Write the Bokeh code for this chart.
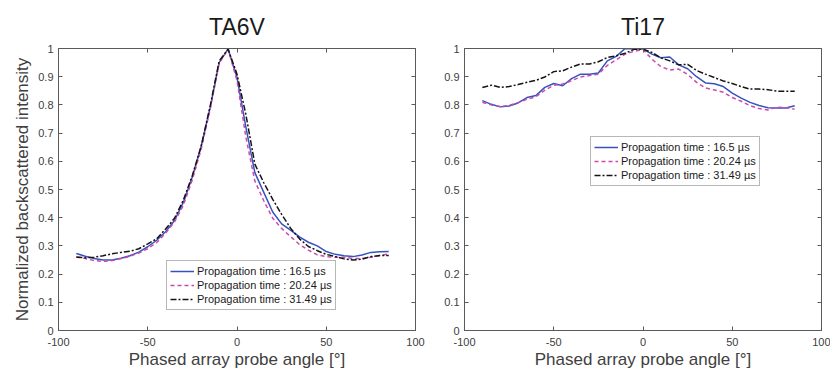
from bokeh.plotting import figure
from bokeh.layouts import row
from bokeh.models import Range1d, LinearAxis, FixedTicker, Legend
from bokeh.embed import file_html
from bokeh.resources import INLINE

# ---------------- data ----------------
angles = [-90, -85, -80, -75, -70, -65, -60, -55, -50, -45, -40, -35, -30, -25, -20, -15, -10, -5,
          0, 5, 10, 15, 20, 25, 30, 35, 40, 45, 50, 55, 60, 65, 70, 75, 80, 85]

ta6v_16_5 = [0.273, 0.263, 0.255, 0.250, 0.250, 0.256, 0.265, 0.278, 0.297, 0.320, 0.350, 0.390,
             0.455, 0.545, 0.655, 0.791, 0.950, 0.998, 0.897, 0.720, 0.560, 0.490, 0.420, 0.378,
             0.356, 0.332, 0.313, 0.300, 0.280, 0.270, 0.265, 0.262, 0.268, 0.277, 0.279, 0.280]
ta6v_20_24 = [0.262, 0.255, 0.248, 0.245, 0.248, 0.255, 0.263, 0.275, 0.290, 0.312, 0.345, 0.385,
              0.445, 0.535, 0.645, 0.785, 0.948, 0.998, 0.886, 0.685, 0.530, 0.460, 0.398, 0.362,
              0.333, 0.305, 0.285, 0.268, 0.262, 0.260, 0.260, 0.255, 0.255, 0.260, 0.266, 0.272]
ta6v_31_49 = [0.260, 0.258, 0.260, 0.265, 0.272, 0.277, 0.281, 0.290, 0.307, 0.325, 0.360, 0.398,
              0.463, 0.550, 0.655, 0.797, 0.955, 0.998, 0.909, 0.765, 0.590, 0.524, 0.465, 0.412,
              0.363, 0.325, 0.298, 0.283, 0.270, 0.262, 0.254, 0.250, 0.253, 0.262, 0.266, 0.266]

ti17_16_5 = [0.815, 0.802, 0.793, 0.796, 0.807, 0.826, 0.833, 0.862, 0.876, 0.868, 0.893, 0.909,
             0.909, 0.913, 0.956, 0.972, 1.000, 0.998, 0.998, 0.980, 0.967, 0.970, 0.942, 0.928,
             0.900, 0.878, 0.875, 0.865, 0.842, 0.824, 0.809, 0.798, 0.790, 0.789, 0.789, 0.797]
ti17_20_24 = [0.809, 0.800, 0.794, 0.798, 0.808, 0.820, 0.829, 0.852, 0.870, 0.874, 0.886, 0.899,
              0.904, 0.909, 0.940, 0.960, 0.980, 0.990, 0.997, 0.962, 0.936, 0.924, 0.927, 0.908,
              0.880, 0.860, 0.853, 0.845, 0.826, 0.813, 0.797, 0.787, 0.782, 0.792, 0.790, 0.785]
ti17_31_49 = [0.862, 0.870, 0.862, 0.865, 0.872, 0.880, 0.887, 0.899, 0.918, 0.921, 0.934, 0.945,
              0.945, 0.953, 0.968, 0.974, 0.983, 0.997, 0.998, 0.986, 0.967, 0.956, 0.942, 0.944,
              0.922, 0.909, 0.897, 0.885, 0.876, 0.865, 0.856, 0.856, 0.854, 0.849, 0.848, 0.848]

series_labels = ["Propagation time : 16.5 µs", "Propagation time : 20.24 µs", "Propagation time : 31.49 µs"]
x_ticks = [-100, -50, 0, 50, 100]
y_ticks = [0, 0.1, 0.2, 0.3, 0.4, 0.5, 0.6, 0.7, 0.8, 0.9, 1]
y_tick_labels = ["0", "0.1", "0.2", "0.3", "0.4", "0.5", "0.6", "0.7", "0.8", "0.9", "1"]
x_tick_labels = ["-100", "-50", "0", "50", "100"]

# ---------------- styles ----------------
FONT = "Liberation Sans"
TXT = "#404040"
AX = "#5a5a5a"
styles = [
    dict(color="#3653bd", line_dash="solid", line_width=1.5),
    dict(color="#cc49ac", line_dash="4 3", line_width=1.5),
    dict(color="#141414", line_dash="6 2 2 2", line_width=1.5),
]


def style_axis(ax, ticks, labels, show_labels=True, standoff=5):
    ax.ticker = FixedTicker(ticks=ticks)
    ax.minor_tick_line_color = None
    ax.major_tick_in = 4
    ax.major_tick_out = 0
    ax.axis_line_color = AX
    ax.major_tick_line_color = AX
    ax.major_label_text_font = FONT
    if show_labels:
        ax.major_label_overrides = {t: l for t, l in zip(ticks, labels)}
        ax.major_label_text_color = TXT
        ax.major_label_text_font_size = "11px"
        ax.major_label_standoff = standoff
    else:
        ax.major_label_text_color = None
        ax.major_label_text_font_size = "0px"
        ax.major_label_standoff = 0


def make_fig(title, ys, border_left, border_right, ylabel, legend_loc):
    p = figure(frame_width=357, frame_height=282, output_backend="svg", toolbar_location=None,
               x_range=Range1d(-100, 100), y_range=Range1d(0, 1),
               min_border_left=border_left, min_border_right=border_right,
               min_border_top=48, min_border_bottom=40)
    p.title.text = title
    p.title.text_font = FONT
    p.title.text_font_size = "23px"
    p.title.text_font_style = "normal"
    p.title.text_color = "#1a1a1a"
    p.title.align = "center"
    p.title.standoff = 18
    p.grid.visible = False
    p.outline_line_color = AX
    p.background_fill_color = "white"
    p.border_fill_color = "white"

    style_axis(p.xaxis[0], x_ticks, x_tick_labels, standoff=7)
    style_axis(p.yaxis[0], y_ticks, y_tick_labels, standoff=5)
    p.xaxis[0].axis_label = "Phased array probe angle [°]"
    p.xaxis[0].axis_label_standoff = 1
    p.yaxis[0].axis_label = ylabel
    p.yaxis[0].axis_label_standoff = 3
    for ax in (p.xaxis[0], p.yaxis[0]):
        ax.axis_label_text_font = FONT
        ax.axis_label_text_font_size = "17px"
        ax.axis_label_text_font_style = "normal"
        ax.axis_label_text_color = TXT

    top = LinearAxis()
    style_axis(top, x_ticks, x_tick_labels, show_labels=False)
    p.add_layout(top, "above")
    right = LinearAxis()
    style_axis(right, y_ticks, y_tick_labels, show_labels=False)
    p.add_layout(right, "right")

    items = []
    for y, lab, st in zip(ys, series_labels, styles):
        r = p.line(angles, y, **st)
        items.append((lab, [r]))
    leg = Legend(items=items, location=legend_loc)
    leg.label_text_font = FONT
    leg.label_text_font_size = "11px"
    leg.label_text_color = "#1a1a1a"
    leg.label_standoff = 3
    leg.label_height = 14
    leg.glyph_height = 14
    leg.glyph_width = 24
    leg.spacing = 0
    leg.padding = 3
    leg.margin = 0
    leg.border_line_color = "#707070"
    leg.border_line_width = 1
    leg.background_fill_alpha = 1
    p.add_layout(leg, "center")
    return p


p1 = make_fig("TA6V", [ta6v_16_5, ta6v_20_24, ta6v_31_49], 58, 25,
              "Normalized backscattered intensity", (108, 20))
p2 = make_fig("Ti17", [ti17_16_5, ti17_20_24, ti17_31_49], 24, 9,
              None, (126, 144))

p = row(p1, p2)
open("out.html", "w").write(file_html(p, INLINE))
